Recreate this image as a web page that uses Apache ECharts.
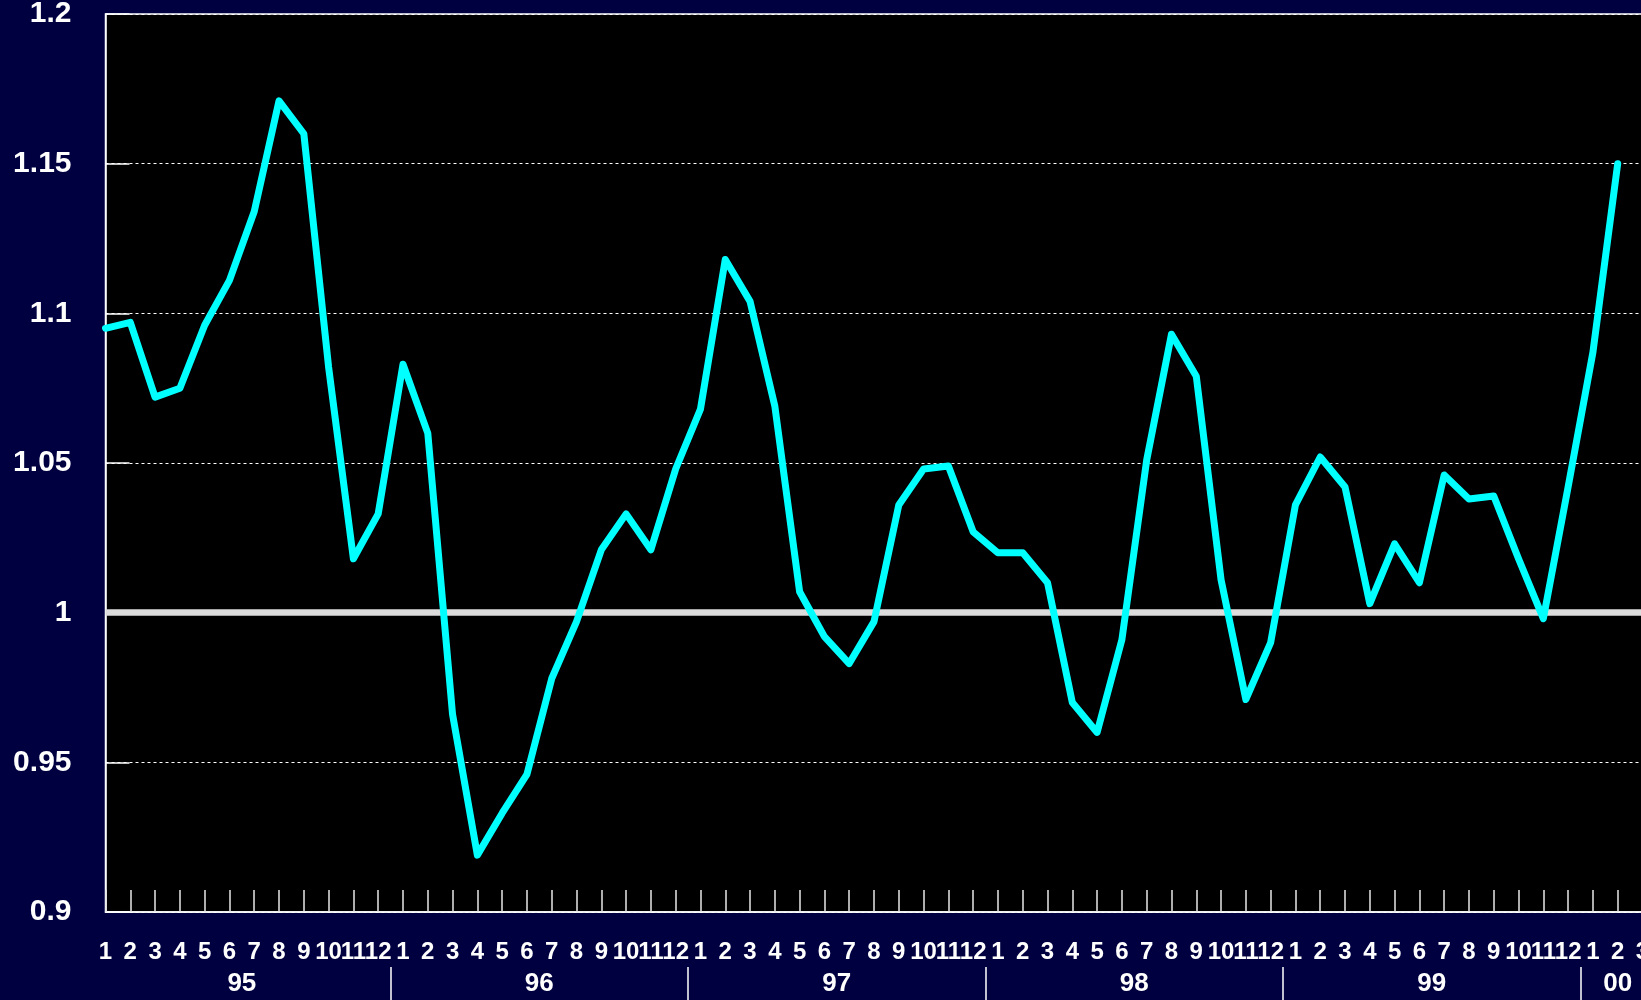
<!DOCTYPE html>
<html>
<head>
<meta charset="utf-8">
<title>Monthly ratio 1995–2000</title>
<script src="https://cdn.jsdelivr.net/npm/echarts@6/dist/echarts.min.js"></script>
<style>
  html, body { margin: 0; padding: 0; background: #000040; }
  #chart { width: 1641px; height: 1000px; }
</style>
</head>
<body>
<div id="chart"></div>
<script>
// Year groups along the bottom axis and how many months each one covers
const years = ['95', '96', '97', '98', '99', '00'];
const monthsPerYear = [12, 12, 12, 12, 12, 3];

// Monthly ratio, Jan 1995 – Mar 2000 (Mar 2000 not yet available)
const ratio1995 = [1.095, 1.097, 1.072, 1.075, 1.096, 1.111, 1.134, 1.171, 1.160, 1.082, 1.018, 1.033];
const ratio1996 = [1.083, 1.060, 0.966, 0.919, 0.933, 0.946, 0.978, 0.997, 1.021, 1.033, 1.021, 1.048];
const ratio1997 = [1.068, 1.118, 1.104, 1.069, 1.007, 0.992, 0.983, 0.997, 1.036, 1.048, 1.049, 1.027];
const ratio1998 = [1.020, 1.020, 1.010, 0.970, 0.960, 0.991, 1.051, 1.093, 1.079, 1.011, 0.971, 0.990];
const ratio1999 = [1.036, 1.052, 1.042, 1.003, 1.023, 1.010, 1.046, 1.038, 1.039, 1.018, 0.998, 1.042];
const ratio2000 = [1.087, 1.150, null];

// Value axis range and the reference level
const yMin = 0.9;
const yMax = 1.2;
const yStep = 0.05;
const baseline = 1;

// Month labels (1..12 per year) and the combined series
const monthLabels = [];
monthsPerYear.forEach(n => { for (let m = 1; m <= n; m++) monthLabels.push(String(m)); });
const ratio = [].concat(ratio1995, ratio1996, ratio1997, ratio1998, ratio1999, ratio2000);

// Year separators sit halfway between December and January; year names are centred on their months
const yearBounds = [];
const yearCentres = [];
let start = 0;
monthsPerYear.forEach((n, i) => {
  yearCentres.push(start + (n - 1) / 2);
  if (i > 0) yearBounds.push(start - 0.5);
  start += n;
});
const lastIndex = monthLabels.length - 1;

const font = '"Liberation Sans", Arial, sans-serif';

const chart = echarts.init(document.getElementById('chart'), null, { renderer: 'canvas' });
chart.setOption({
  backgroundColor: '#000040',
  animation: false,
  grid: {
    left: 105.5, right: -1.5, top: 14, bottom: 88,
    containLabel: false,
    outerBoundsMode: 'none',
    show: true, backgroundColor: '#000000', borderColor: '#ffffff', borderWidth: 1.5
  },
  xAxis: [
    {
      type: 'category',
      data: monthLabels,
      boundaryGap: false,
      axisLine: { show: true, lineStyle: { color: '#ffffff', width: 1.5 } },
      axisTick: { show: true, inside: true, length: 22, interval: 0, lineStyle: { color: '#e8e8e8', width: 1.5 } },
      axisLabel: {
        interval: 0, color: '#ffffff', fontSize: 24, fontWeight: 'bold',
        fontFamily: font, margin: 28, hideOverlap: false
      },
      splitLine: { show: false }
    },
    {
      type: 'value',
      min: 0,
      max: lastIndex,
      position: 'bottom',
      offset: 55,
      axisLine: { show: false },
      axisTick: {
        show: true, inside: false, length: 36, customValues: yearBounds,
        lineStyle: { color: '#ffffff', width: 1.5 }
      },
      axisLabel: {
        show: true, customValues: yearCentres, margin: 4,
        color: '#ffffff', fontSize: 26, fontWeight: 'bold', fontFamily: font,
        formatter: v => years[yearCentres.findIndex(c => Math.abs(c - v) < 1e-6)] || ''
      },
      splitLine: { show: false }
    }
  ],
  yAxis: {
    type: 'value',
    min: yMin,
    max: yMax,
    interval: yStep,
    axisLine: { show: true, lineStyle: { color: '#ffffff', width: 1.5 } },
    axisTick: { show: true, inside: true, length: 24, lineStyle: { color: '#ffffff', width: 1.5 } },
    axisLabel: {
      color: '#ffffff', fontSize: 30, fontWeight: 'bold', fontFamily: font, margin: 34,
      formatter: v => String(+v.toFixed(2))
    },
    splitLine: { show: true, lineStyle: { color: '#ffffff', width: 1, type: [3, 3] } }
  },
  series: [
    {
      name: 'ratio',
      type: 'line',
      data: ratio,
      xAxisIndex: 0,
      yAxisIndex: 0,
      z: 3,
      symbol: 'none',
      connectNulls: false,
      lineStyle: { color: '#00ffff', width: 7, cap: 'round', join: 'round' },
      markLine: {
        z: 1,
        silent: true,
        symbol: 'none',
        label: { show: false },
        lineStyle: { color: '#dcdcdc', width: 6.5, type: 'solid' },
        data: [{ yAxis: baseline }]
      }
    }
  ]
});
</script>
</body>
</html>
